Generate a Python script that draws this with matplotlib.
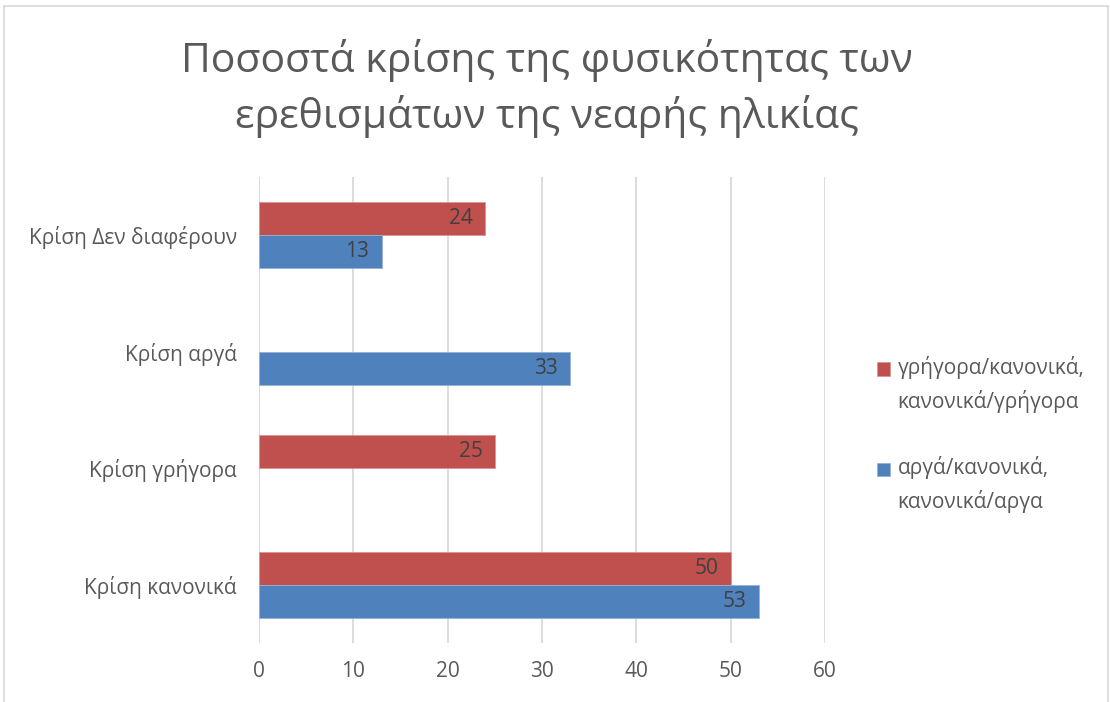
import numpy as np
import matplotlib.pyplot as plt
from matplotlib.lines import Line2D

plt.rcParams['font.family'] = ['Open Sans', 'DejaVu Sans']

categories = ['Κρίση κανονικά', 'Κρίση γρήγορα', 'Κρίση αργά', 'Κρίση Δεν διαφέρουν']
fast_vals = [50, 25, np.nan, 24]
slow_vals = [53, np.nan, 33, 13]
fast_name = 'γρήγορα/κανονικά,\nκανονικά/γρήγορα'
slow_name = 'αργά/κανονικά,\nκανονικά/αργα'
title = 'Ποσοστά κρίσης της φυσικότητας των\nερεθισμάτων της νεαρής ηλικίας'

red = '#C0504D'
blue = '#4F81BD'
grey = '#595959'

fig = plt.figure(figsize=(11.1, 7.02), dpi=100)
ax = fig.add_axes([0.2333, 0.084, 0.7432 - 0.2333, 0.748 - 0.084])

y = np.arange(len(categories))
h = 0.285
b1 = ax.barh(y + h / 2, fast_vals, h, color=red, edgecolor='#D99694', linewidth=0.6,
             label=fast_name, zorder=3)
b2 = ax.barh(y - h / 2, slow_vals, h, color=blue, edgecolor='#95B3D7', linewidth=0.6,
             label=slow_name, zorder=3)

for bars, vals in ((b1, fast_vals), (b2, slow_vals)):
    for bar, v in zip(bars, vals):
        if np.isnan(v):
            continue
        ax.text(v - 1.3, bar.get_y() + bar.get_height() / 2, f'{v:g}',
                ha='right', va='center', fontsize=15, color='#404040', zorder=4)

ax.set_xlim(0, 60)
ax.set_ylim(-0.5, 3.5)
ax.set_xticks(range(0, 61, 10))
ax.set_yticks(y)
ax.set_yticklabels(categories)
ax.grid(axis='x', color='#D9D9D9', linewidth=1.3, zorder=0)
for s in ax.spines.values():
    s.set_visible(False)
ax.tick_params(axis='both', length=0, labelsize=15, labelcolor=grey)
ax.tick_params(axis='x', pad=13)
ax.tick_params(axis='y', pad=16)

fig.suptitle(title, x=0.493, y=0.945, fontsize=29.5, color=grey, linespacing=1.4)

leg = fig.legend(loc='center left', bbox_to_anchor=(0.773, 0.381), frameon=False,
                 fontsize=15, labelcolor=grey, handlelength=0.65, handleheight=0.65,
                 handletextpad=0.35, labelspacing=2.1)
for t in leg.get_texts():
    t.set_linespacing(1.6)
# put the colour squares level with the first text line, like the original
for hnd in leg.legend_handles:
    hnd.set_y(hnd.get_y() + 11.5)

# outer chart border (bottom is cut off in the original)
c = '#D9D9D9'
fig.add_artist(Line2D([0.004, 0.004], [0.0, 0.991], color=c, lw=1.2))
fig.add_artist(Line2D([0.004, 0.998], [0.991, 0.991], color=c, lw=1.2))
fig.add_artist(Line2D([0.998, 0.998], [0.0, 0.991], color=c, lw=1.2))

fig.savefig('out.png', dpi=100)
